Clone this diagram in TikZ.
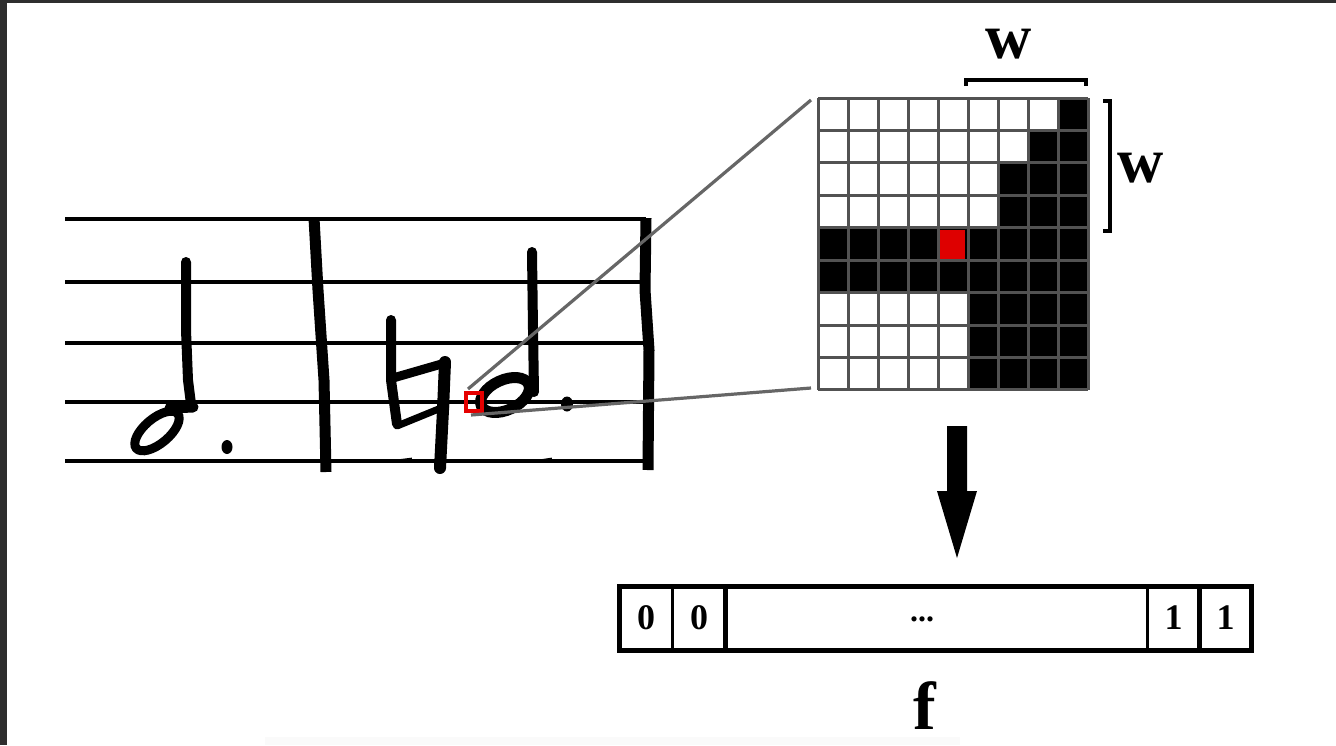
\documentclass[tikz,border=0pt]{standalone}
\usepackage{fontspec}
\setmainfont{Liberation Serif}
\tikzset{
  vecbox/.style={draw, line width=3pt, outer sep=0pt, minimum height=64pt, inner sep=0pt, font=\bfseries\fontsize{36}{36}\selectfont},
  biglabel/.style={inner sep=0pt, font=\bfseries\fontsize{64}{64}\selectfont},
  staffline/.style={line width=3.8pt},
  ink/.style={line width=10pt, line join=round, line cap=round},
  zoomline/.style={line width=3.2pt, color=black!60},
  bracketline/.style={line width=3.2pt}
}
\begin{document}
\begin{tikzpicture}[x=1pt, y=-1pt, >=stealth]
    \useasboundingbox (0,0) rectangle (1336,745);
    \fill[black!82] (0,0) rectangle (1336,745);
    \fill[white] (7,3) rectangle (1336,745);
    \fill[black!2] (265,737) rectangle (960,745);
    \foreach \y in {219,282,343,402,461}
      \draw[staffline] (65,\y) -- (646,\y);
    \draw[staffline] (400,461) -- (412,459.5) (542,461) -- (552,459.5);
    \draw[ink] (186,262) -- (186,330) -- (188,380) -- (191,404);
    \draw[line width=9pt, rotate around={40:(157,431)}] (157,431) ellipse [x radius=27, y radius=12.5];
    \draw[line width=11pt, line cap=round] (170,408) -- (193,407);
    \fill (227,447) ellipse [x radius=5.5, y radius=7];
    \draw[ink, line cap=butt, line width=11pt] (314,218) -- (318,290) -- (324,380) -- (326,472);
    \draw[ink, line width=10pt] (391,320) -- (391,380) -- (397,424);
    \draw[ink, line width=9pt] (393,378) -- (445,363);
    \draw[ink, line width=7pt] (397,426) -- (446,406);
    \draw[ink, line width=12pt] (445,362) -- (443,410) -- (440,468);
    \draw[ink] (532,252) -- (533,330) -- (534,392);
    \draw[line width=11pt, rotate around={25:(505,395)}] (505,395) ellipse [x radius=26, y radius=15];
    \fill (567,404) ellipse [x radius=6, y radius=7.5];
    \draw[ink, line cap=butt, line width=11pt] (646,218) -- (645,290) -- (649,350) -- (648,470);
    \node[draw=red!90!black, line width=3.2pt, minimum width=16pt, minimum height=18pt, inner sep=0pt] (redbox) at (474,402) {};
    \coordinate (cornertop) at (811,100);
    \coordinate (cornerbot) at (811,388);
    \coordinate (boxtop) at (468,389);
    \coordinate (boxbot) at (471,415);
    \draw[zoomline] (boxtop) -- (cornertop);
    \draw[zoomline] (boxbot) -- (cornerbot);
    \foreach \r/\s in {0/8,1/7,2/6,3/6,4/0,5/0,6/5,7/5,8/5}
      \fill (818+30*\s,98+32.4*\r) rectangle (1088,98+32.4*\r+32.4);
    \fill[red!87!black] (939,230) rectangle (965,259);
    \foreach \i in {0,...,9} {
      \draw[line width=3pt, color=black!68] (818+30*\i,98) -- (818+30*\i,390);
      \draw[line width=3pt, color=black!68] (818,98+32.44*\i) -- (1088,98+32.44*\i);
    }
    \draw[bracketline] (966,86) -- (966,80) -- (1086,80) -- (1086,86);
    \draw[bracketline] (1103,101) -- (1110,101) -- (1110,231) -- (1103,231);
    \node[biglabel] (wtop) at (1009,44) {w};
    \node[biglabel] (wright) at (1141,168) {w};
    \fill (947,426) -- (967,426) -- (967,491) -- (977,491) -- (957,558) -- (937,491) -- (947,491) -- cycle;
    \node[vecbox, minimum width=53pt] (bitA) at (646,618) {0};
    \node[vecbox, minimum width=53pt] (bitB) at (699,618) {0};
    \node[vecbox, minimum width=422pt] (bitdots) at (936.5,618) {};
    \node[inner sep=0pt, font=\bfseries\fontsize{32}{32}\selectfont] (dots) at (922,619) {...};
    \node[vecbox, minimum width=52pt] (bitC) at (1173.5,618) {1};
    \node[vecbox, minimum width=52pt] (bitD) at (1225.5,618) {1};
    \draw[line width=5pt] (bitA.north west) rectangle (bitD.south east);
    \draw[line width=4.5pt] (bitB.north east) -- (bitB.south east);
    \draw[line width=4.5pt] (bitC.north east) -- (bitC.south east);
    \node[biglabel, font=\bfseries\fontsize{68}{68}\selectfont] (flabel) at (925,706) {f};
\end{tikzpicture}
\end{document}
